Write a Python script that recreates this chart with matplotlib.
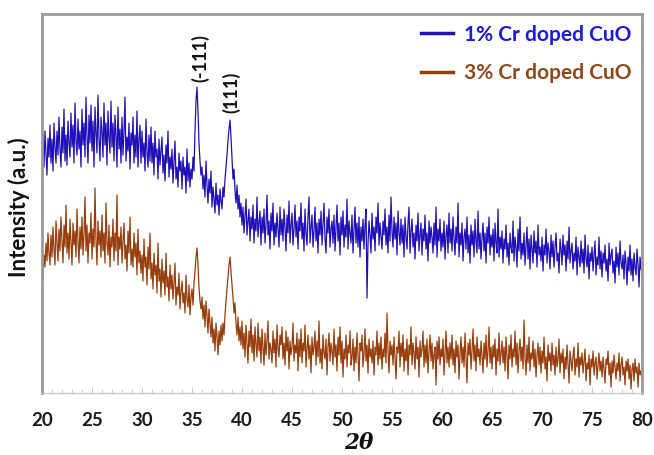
import matplotlib
matplotlib.use('Agg')
import matplotlib.pyplot as plt
import numpy as np
from matplotlib.ticker import MultipleLocator

# scan 20-80 deg, 0.1 deg step
two_theta = np.round(np.arange(20.0, 80.001, 0.1), 1)

# 1% Cr doped CuO, one row per degree
cr1 = [
    232, 258, 226, 262, 240, 218, 255, 236, 268, 230,
    254, 222, 270, 246, 230, 262, 238, 276, 244, 226,
    266, 240, 284, 232, 258, 228, 272, 250, 236, 280,
    246, 268, 230, 290, 252, 238, 274, 244, 262, 226,
    284, 248, 270, 236, 296, 256, 230, 278, 250, 288,
    242, 272, 226, 286, 260, 240, 298, 254, 232, 276,
    262, 236, 290, 248, 270, 228, 282, 256, 240, 292,
    246, 270, 232, 278, 258, 226, 286, 244, 264, 230,
    276, 238, 262, 296, 232, 256, 242, 270, 224, 260,
    248, 276, 230, 258, 236, 282, 226, 254, 268, 230,
    262, 236, 250, 222, 274, 240, 226, 258, 232, 266,
    230, 250, 218, 262, 236, 244, 214, 254, 228, 242,
    256, 220, 238, 212, 248, 230, 262, 216, 236, 224,
    244, 210, 230, 252, 214, 226, 206, 240, 222, 232,
    204, 236, 218, 226, 200, 244, 212, 230, 206, 224,
    214, 236, 222, 262, 292, 306, 282, 250, 232, 218,
    226, 204, 218, 196, 232, 208, 190, 214, 200, 222,
    186, 206, 194, 180, 210, 188, 198, 178, 204, 192,
    184, 206, 196, 214, 226, 238, 252, 264, 273, 256,
    236, 214, 224, 202, 190, 208, 184, 198, 176, 190,
    168, 186, 160, 178, 194, 158, 172, 184, 152, 176,
    164, 188, 150, 174, 162, 196, 156, 170, 182, 148,
    176, 160, 184, 150, 168, 198, 158, 172, 144, 180,
    162, 190, 148, 170, 156, 180, 164, 146, 186, 158,
    174, 152, 184, 166, 142, 178, 160, 192, 150, 168,
    180, 148, 164, 188, 156, 172, 144, 176, 162, 190,
    154, 170, 142, 184, 160, 148, 176, 196, 150, 166,
    178, 146, 162, 186, 152, 170, 140, 174, 158, 182,
    148, 168, 190, 154, 140, 176, 160, 184, 146, 164,
    172, 150, 178, 142, 166, 188, 152, 170, 138, 176,
    158, 182, 146, 168, 156, 194, 144, 172, 160, 150,
    178, 140, 164, 186, 150, 170, 146, 176, 136, 166,
    152, 174, 144, 168, 184, 95, 150, 172, 158, 140,
    180, 154, 166, 142, 176, 160, 190, 148, 170, 156,
    144, 172, 158, 184, 148, 166, 140, 178, 152, 196,
    162, 146, 176, 154, 170, 138, 182, 160, 148, 174,
    150, 168, 136, 176, 156, 144, 170, 186, 140, 162,
    174, 146, 160, 134, 168, 152, 180, 142, 158, 170,
    138, 164, 152, 178, 144, 160, 132, 172, 150, 166,
    156, 140, 170, 148, 186, 136, 164, 152, 174, 142,
    160, 146, 172, 134, 158, 168, 140, 180, 150, 164,
    142, 176, 154, 138, 166, 150, 190, 136, 160, 148,
    170, 132, 156, 164, 144, 176, 140, 158, 130, 168,
    148, 162, 136, 174, 152, 140, 182, 144, 160, 134,
    156, 170, 142, 160, 130, 166, 150, 176, 138, 158,
    146, 164, 132, 170, 150, 140, 184, 136, 156, 144,
    162, 130, 154, 144, 168, 136, 150, 128, 160, 146,
    140, 172, 132, 156, 146, 126, 164, 142, 176, 134,
    150, 138, 160, 128, 148, 166, 134, 154, 124, 158,
    144, 130, 162, 140, 152, 126, 168, 138, 146, 132,
    156, 122, 148, 138, 164, 130, 150, 142, 124, 158,
    136, 152, 126, 146, 160, 132, 140, 120, 154, 144,
    128, 158, 138, 148, 122, 152, 134, 166, 130, 142,
    150, 124, 140, 132, 156, 118, 146, 136, 126, 152,
    130, 144, 120, 158, 134, 126, 148, 114, 140, 132,
    146, 122, 138, 152, 118, 136, 128, 156, 124, 142,
    116, 140, 130, 148, 122, 134, 112, 150, 128, 138,
    144, 120, 132, 110, 146, 126, 140, 118, 152, 130,
    124, 138, 114, 142, 130, 108, 136, 122, 148, 118,
    134, 112, 140, 126, 118, 144, 128, 106, 136, 124,
    122,
]

# 3% Cr doped CuO, one row per degree
cr3 = [
    98, 118, 138, 126, 150, 132, 160, 140, 128, 158,
    136, 166, 144, 128, 172, 150, 132, 164, 142, 176,
    154, 130, 168, 146, 188, 140, 160, 134, 174, 150,
    128, 170, 148, 162, 136, 184, 152, 130, 166, 144,
    176, 138, 158, 196, 142, 168, 130, 160, 150, 180,
    134, 164, 146, 205, 152, 128, 172, 148, 162, 136,
    178, 142, 160, 130, 190, 150, 138, 168, 126, 156,
    146, 174, 132, 160, 142, 198, 128, 156, 144, 166,
    130, 152, 170, 134, 148, 122, 162, 140, 176, 128,
    144, 126, 160, 136, 150, 118, 164, 130, 142, 120,
    138, 112, 154, 126, 136, 108, 146, 124, 160, 114,
    130, 104, 140, 118, 128, 100, 150, 112, 124, 96,
    134, 110, 122, 98, 140, 106, 116, 92, 128, 104,
    118, 94, 110, 130, 88, 106, 98, 120, 84, 102,
    112, 90, 100, 80, 118, 94, 86, 108, 78, 96,
    104, 88, 110, 122, 136, 145, 128, 106, 92, 84,
    96, 74, 88, 66, 92, 78, 60, 84, 70, 56,
    76, 50, 64, 42, 70, 56, 38, 62, 48, 68,
    52, 70, 58, 78, 92, 104, 116, 128, 136, 122,
    108, 96, 80, 90, 70, 58, 76, 52, 66, 48,
    72, 44, 60, 36, 68, 50, 30, 62, 46, 74,
    40, 58, 32, 66, 48, 36, 70, 42, 56, 30,
    64, 46, 28, 60, 38, 52, 72, 34, 50, 44,
    30, 62, 40, 54, 26, 68, 44, 36, 58, 48,
    66, 34, 50, 28, 62, 42, 56, 24, 52, 38,
    46, 70, 32, 48, 40, 60, 22, 54, 36, 64,
    30, 50, 42, 68, 26, 44, 58, 34, 48, 20,
    56, 38, 46, 62, 28, 52, 36, 72, 30, 44,
    24, 58, 40, 34, 54, 18, 46, 60, 32, 50,
    42, 28, 64, 36, 48, 22, 56, 38, 66, 30,
    52, 16, 44, 34, 58, 26, 48, 40, 62, 28,
    36, 54, 22, 46, 30, 60, 38, 12, 50, 42,
    58, 26, 40, 64, 32, 48, 20, 54, 36, 44,
    30, 52, 18, 46, 38, 62, 28, 50, 34, 56,
    24, 44, 36, 60, 30, 80, 42, 20, 52, 38,
    48, 28, 56, 34, 14, 46, 40, 62, 26, 50,
    36, 58, 22, 44, 32, 54, 18, 48, 38, 66,
    28, 50, 40, 24, 56, 34, 46, 16, 52, 36,
    44, 62, 26, 48, 30, 54, 20, 42, 58, 32,
    50, 24, 38, 46, 8, 52, 34, 56, 28, 44,
    36, 54, 18, 40, 62, 30, 46, 26, 50, 34,
    58, 28, 44, 20, 52, 36, 48, 14, 40, 56,
    30, 46, 26, 60, 34, 10, 50, 38, 54, 24,
    42, 64, 32, 48, 22, 56, 36, 44, 28, 52,
    38, 20, 50, 34, 58, 26, 42, 66, 30, 46,
    24, 48, 36, 54, 18, 44, 32, 60, 28, 40,
    52, 30, 46, 22, 56, 38, 14, 48, 34, 58,
    26, 44, 36, 62, 28, 50, 20, 42, 54, 32,
    46, 24, 73, 36, 18, 48, 30, 56, 22, 40,
    34, 52, 26, 44, 16, 38, 50, 28, 46, 20,
    42, 30, 56, 24, 36, 12, 48, 32, 40, 22,
    50, 28, 38, 18, 46, 26, 34, 54, 20, 40,
    30, 44, 14, 36, 24, 48, 28, 10, 42, 32,
    22, 38, 46, 18, 34, 26, 50, 16, 36, 28,
    40, 20, 32, 44, 12, 30, 24, 38, 8, 34,
    26, 42, 18, 30, 36, 14, 28, 40, 22, 32,
    16, 36, 24, 10, 34, 28, 42, 18, 30, 6,
    32, 20, 38, 26, 14, 30, 22, 40, 12, 28,
    36, 18, 26, 8, 32, 22, 34, 14, 28, 4,
    24, 30, 12, 34, 20, 26, 6, 30, 18, 22,
    14,
]

peak_labels = ['(-111)', '(111)']
peak_pos = [35.8, 38.9]
peak_text_y = [335, 301]

BLUE = '#2010b8'
BROWN = '#983e0c'

plt.rcParams['font.family'] = ['Lato', 'DejaVu Sans']

fig = plt.figure(figsize=(6.54, 4.55), dpi=100)
ax = fig.add_axes((0.0642, 0.1363, 0.9175, 0.8327))

ax.plot(two_theta, cr1, color=BLUE, lw=0.9, label='1% Cr doped CuO')
ax.plot(two_theta, cr3, color=BROWN, lw=0.9, label='3% Cr doped CuO')

for lab, x, y in zip(peak_labels, peak_pos, peak_text_y):
    ax.text(x, y, lab, rotation=90, ha='center', va='center',
            fontsize=13, fontweight='bold', color='#111111')

ax.set_xlim(20, 80)
ax.set_ylim(0, 379)
ax.set_yticks([])
ax.xaxis.set_major_locator(MultipleLocator(5))
ax.xaxis.set_minor_locator(MultipleLocator(1))
ax.tick_params(axis='x', which='both', direction='in', color='#c8c8c8',
               labelsize=13.5, pad=14)
ax.tick_params(axis='x', which='major', length=4)
ax.tick_params(axis='x', which='minor', length=3)
for t in ax.get_xticklabels():
    t.set_fontweight('bold')
    t.set_color('#1a1a1a')

for side in ['top', 'left', 'right']:
    ax.spines[side].set_color('#999999')
    ax.spines[side].set_linewidth(2)
ax.spines['bottom'].set_color('#c8c8c8')
ax.spines['bottom'].set_linewidth(1)

ax.set_ylabel('Intensity (a.u.)', fontsize=16, fontweight='bold', color='#111111',
              va='center')
ax.yaxis.set_label_coords(-0.038, 0.49)
ax.set_xlabel('2θ', fontsize=15.5, fontweight='bold', fontstyle='italic',
              family='DejaVu Serif', color='#111111', va='center')
ax.xaxis.set_label_coords(0.528, -0.133)

leg = ax.legend(loc='upper right', bbox_to_anchor=(1.0, 1.0), frameon=False,
                handlelength=1.5, handletextpad=0.55, labelspacing=0.9,
                borderaxespad=0, borderpad=0.5,
                labelcolor=['#1a1ae0', '#8c4a1c'], prop={'weight': 'bold', 'size': 15})
for line in leg.get_lines():
    line.set_linewidth(2.5)

fig.savefig('out.png', dpi=100)
